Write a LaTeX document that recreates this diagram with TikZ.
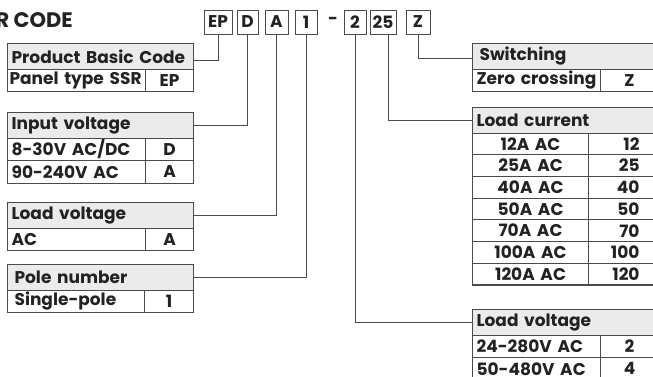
\documentclass[tikz,border=0pt]{standalone}
\usepackage{fontspec}
\setmainfont{Poppins}
\usetikzlibrary{positioning}
\definecolor{linegray}{HTML}{4A4A4A}
\definecolor{headgray}{HTML}{EBEBEB}
\definecolor{inkgray}{HTML}{222222}
\newcommand{\tabfont}{\bfseries\fontsize{17}{18}\selectfont}
\tikzset{
  codebox/.style={draw=linegray, line width=.8pt, minimum height=24, inner sep=0pt, font=\tabfont, text=inkgray},
  headcell/.style={draw=linegray, fill=headgray, line width=1.1pt, minimum height=25.5, inner xsep=4pt, inner ysep=0pt, anchor=north west, text width=#1, align=left, font=\tabfont, text=inkgray},
  labcell/.style={draw=linegray, line width=1.1pt, minimum height=22.5, inner xsep=4pt, inner ysep=0pt, anchor=north west, text width=#1, align=left, font=\tabfont, text=inkgray},
  valcell/.style={draw=linegray, line width=1.1pt, minimum height=22.5, inner xsep=4pt, inner ysep=0pt, anchor=north west, text width=#1, align=center, font=\tabfont, text=inkgray},
  link/.style={draw=linegray, line width=.8pt}
}
\begin{document}
\begin{tikzpicture}[x=1pt, y=-1pt]
\useasboundingbox (0,0) rectangle (653,376);
\clip (0,0) rectangle (653,376);
% code header
\node[anchor=base east, font=\bfseries\fontsize{21}{22}\selectfont, text=inkgray, inner sep=0pt] (title) at (73,27) {R CODE};
\node[codebox, minimum width=28] (cEP) at (218,22) {EP};
\node[codebox, minimum width=21] (cD) at (247.5,22) {D};
\node[codebox, minimum width=23] (cA) at (276.5,22) {A};
\node[codebox, minimum width=22] (cOne) at (306,22) {1};
\node[font=\tabfont, text=inkgray] (dash) at (333,21) {-};
\node[codebox, minimum width=22] (cTwo) at (355,22) {2};
\node[codebox, minimum width=26] (cCur) at (383,22) {25};
\node[codebox, minimum width=24] (cZ) at (418,22) {Z};
% left tables
\node[headcell=178] (pbc) at (7,43) {Product Basic Code};
\node[labcell=134, inner xsep=2pt] (pbc1) at (7,68.5) {\mbox{Panel type SSR}};
\node[valcell=40] (pbc1v) at (145,68.5) {EP};
\node[headcell=178] (iv) at (7,112) {Input voltage};
\node[labcell=130] (iv1) at (7,137.5) {8-30V AC/DC};
\node[valcell=40] (iv1v) at (145,137.5) {D};
\node[labcell=130] (iv2) at (7,160) {90-240V AC};
\node[valcell=40] (iv2v) at (145,160) {A};
\node[headcell=178] (lv) at (7,202) {Load voltage};
\node[labcell=130] (lv1) at (7,227.5) {AC};
\node[valcell=40] (lv1v) at (145,227.5) {A};
\node[headcell=172, inner xsep=7pt] (pn) at (7,264) {Pole number};
\node[labcell=123, inner xsep=7pt] (pn1) at (7,289.5) {Single-pole};
\node[valcell=41] (pn1v) at (144,289.5) {1};
% right tables
\node[headcell=178, inner xsep=7pt] (sw) at (472,43) {Switching};
\node[labcell=120] (sw1) at (472,68.5) {Zero crossing};
\node[valcell=50] (sw1v) at (600,68.5) {Z};
\node[headcell=192] (lc) at (472,107) {Load current};
\foreach \a/\v [count=\i] in {12A AC/12, 25A AC/25, 40A AC/40, 50A AC/50, 70A AC/70, 100A AC/100, 120A AC/120}
{
    \node[valcell=108, minimum height=21.7] (lc\i) at (472,{132.5+(\i-1)*21.7}) {\a};
    \node[valcell=71, minimum height=21.7, align=right] (lc\i v) at (588,{132.5+(\i-1)*21.7}) {\v\hspace*{24pt}};
}
\node[headcell=178] (lvr) at (472,309) {Load voltage};
\node[labcell=120] (lvr1) at (472,334.5) {24-280V AC};
\node[valcell=50] (lvr1v) at (600,334.5) {2};
\node[labcell=120] (lvr2) at (472,357) {50-480V AC};
\node[valcell=50] (lvr2v) at (600,357) {4};
% connectors
\draw[link] (cEP.south) |- ([yshift=-4pt]pbc.east);
\draw[link] (cD.south) |- (iv.east);
\draw[link] (cA.south) |- (lv.east);
\draw[link] (cOne.south) |- (pn.east);
\draw[link] (cZ.south) |- ([yshift=-2.5pt]sw.west);
\draw[link] ([xshift=5pt]cCur.south) |- (lc.west);
\draw[link] (cTwo.south) |- (lvr.west);
\end{tikzpicture}
\end{document}
